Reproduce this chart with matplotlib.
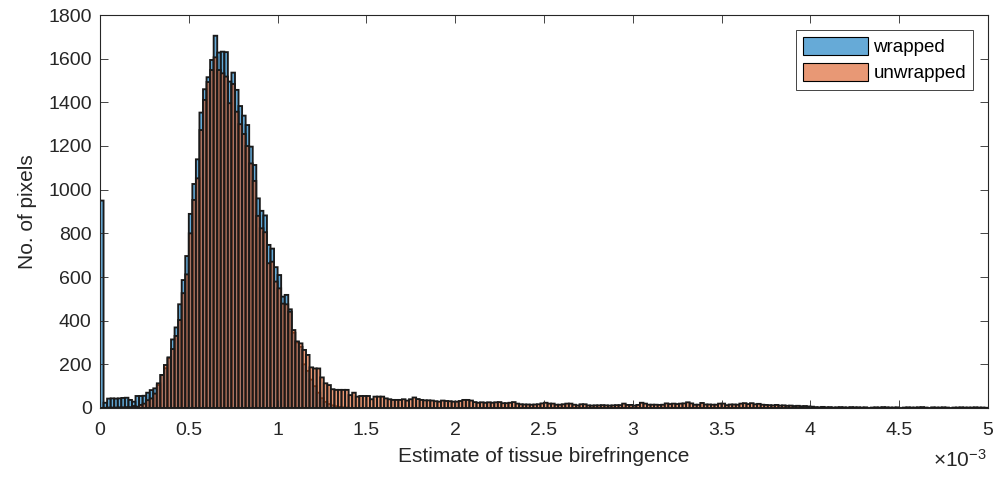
import numpy as np
import matplotlib
matplotlib.use("Agg")
import matplotlib.pyplot as plt
from matplotlib.patches import Patch
from matplotlib.ticker import FuncFormatter

plt.rcParams['font.family'] = ['Liberation Sans', 'DejaVu Sans']
plt.rcParams['mathtext.fontset'] = 'custom'
plt.rcParams['mathtext.rm'] = 'Liberation Sans'
plt.rcParams['mathtext.it'] = 'Liberation Sans'

# histogram bins, in units of 1e-3
bin_width = 0.02

wrapped = [
    950, 24, 43, 44, 43, 44, 46, 47, 37, 29,
    55, 55, 56, 70, 82, 90, 105, 151, 182, 228,
    314, 369, 475, 586, 696, 889, 1026, 1139, 1353, 1460,
    1515, 1594, 1705, 1628, 1632, 1630, 1495, 1536, 1457, 1383,
    1339, 1296, 1197, 1113, 960, 903, 882, 747, 730, 645,
    609, 510, 518, 452, 345, 300, 280, 200, 170, 130,
    100, 70, 45, 28, 18, 12, 8, 5, 3, 2,
]

unwrapped = [
    0, 1, 2, 2, 2, 3, 3, 4, 4, 9,
    6, 14, 20, 36, 44, 66, 113, 151, 197, 232,
    270, 330, 403, 526, 612, 800, 953, 1052, 1273, 1411,
    1493, 1548, 1606, 1548, 1533, 1518, 1396, 1484, 1357, 1300,
    1255, 1200, 1120, 1040, 880, 823, 805, 663, 670, 579,
    548, 478, 475, 441, 357, 305, 296, 266, 243, 186,
    181, 181, 140, 113, 105, 86, 83, 83, 83, 83,
    59, 70, 52, 55, 55, 55, 40, 52, 52, 52,
    44, 40, 37, 37, 37, 40, 34, 40, 48, 41,
    37, 35, 35, 34, 31, 29, 34, 32, 31, 29,
    29, 32, 37, 37, 34, 27, 24, 26, 24, 26,
    24, 26, 27, 22, 22, 24, 27, 20, 17, 16,
    16, 15, 16, 17, 21, 24, 20, 20, 15, 15,
    17, 20, 20, 15, 12, 17, 17, 12, 11, 12,
    12, 13, 12, 11, 12, 13, 13, 20, 14, 14,
    11, 14, 24, 20, 15, 15, 15, 14, 15, 21,
    18, 20, 18, 20, 21, 26, 21, 15, 15, 23,
    16, 16, 15, 15, 20, 20, 13, 16, 16, 15,
    20, 22, 18, 22, 17, 19, 15, 14, 13, 12,
    14, 11, 12, 10, 11, 9, 10, 8, 9, 7,
    6, 4, 3, 5, 3, 4, 2, 3, 4, 3,
    2, 4, 3, 3, 2, 3, 0, 2, 3, 2,
    4, 3, 2, 2, 3, 0, 2, 3, 2, 2,
    3, 4, 2, 0, 3, 2, 2, 3, 2, 0,
    2, 2, 3, 2, 2, 2, 3, 2, 2, 1,
]

x_ticks = [0, 0.5, 1, 1.5, 2, 2.5, 3, 3.5, 4, 4.5, 5]
y_ticks = [0, 200, 400, 600, 800, 1000, 1200, 1400, 1600, 1800]

blue = (0.0, 0.447, 0.741, 0.6)
orange = (0.85, 0.325, 0.098, 0.6)
axis_col = (0.15, 0.15, 0.15)

fig = plt.figure(figsize=(9.97, 4.78), dpi=100)
ax = fig.add_axes([100 / 997, 70 / 478, 888 / 997, 393 / 478])

x_w = np.arange(len(wrapped)) * bin_width
x_u = np.arange(len(unwrapped)) * bin_width
ax.bar(x_w, wrapped, width=bin_width, align='edge', facecolor=blue,
       edgecolor=(0.1, 0.1, 0.1), linewidth=1.35, snap=False)
ax.bar(x_u, unwrapped, width=bin_width, align='edge', facecolor=orange,
       edgecolor=(0.1, 0.1, 0.1), linewidth=1.35, snap=False)

ax.set_xlim(0, 5)
ax.set_ylim(0, 1800)
ax.set_xticks(x_ticks)
ax.set_yticks(y_ticks)
ax.xaxis.set_major_formatter(FuncFormatter(lambda v, p: f"{v:g}"))
ax.tick_params(direction='in', length=6, width=0.6, colors=axis_col,
               labelsize=14, top=True, right=True)
ax.tick_params(axis='x', pad=10)
ax.tick_params(axis='y', pad=6)
for s in ax.spines.values():
    s.set_color(axis_col)
    s.set_linewidth(0.8)

ax.set_xlabel("Estimate of tissue birefringence", fontsize=15, color=axis_col, labelpad=6)
ax.set_ylabel("No. of pixels", fontsize=15, color=axis_col, labelpad=8)
ax.text(0.998, -0.105, r"$\times10^{-3}$", transform=ax.transAxes, ha='right', va='top',
        fontsize=15, color=axis_col)

handles = [Patch(facecolor=blue, edgecolor='black', linewidth=0.8, label='wrapped'),
           Patch(facecolor=orange, edgecolor='black', linewidth=0.8, label='unwrapped')]
leg = ax.legend(handles=handles, loc='upper right', fontsize=13.5, fancybox=False,
                framealpha=1, edgecolor=axis_col, handlelength=3.45, handleheight=1.07,
                handletextpad=0.3, borderaxespad=0.8, borderpad=0.38, labelspacing=0.37)
leg.get_frame().set_linewidth(0.6)

fig.savefig("out.png", dpi=100)
